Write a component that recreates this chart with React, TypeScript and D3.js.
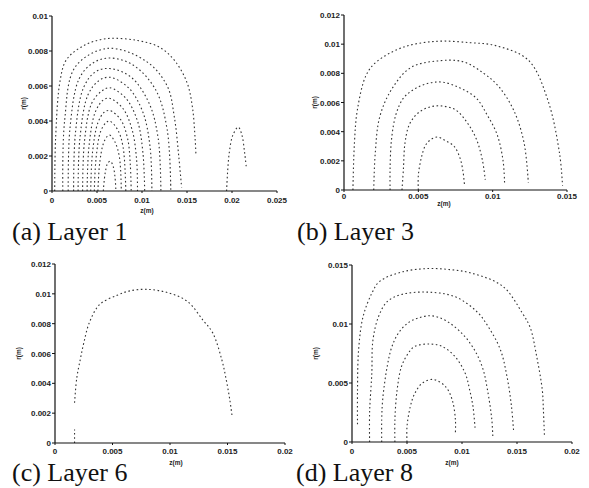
import React from "react";
import * as d3 from "d3";

type Pt = [number, number];

// ---------- DATA (z, r) in metres ----------
const layer1Contours: Pt[][] = [
  [[0.0003, 0], [0.0004, 0.003], [0.0009, 0.0063], [0.0016, 0.0075], [0.0035, 0.0083], [0.006, 0.0087], [0.0095, 0.0086], [0.012, 0.0082], [0.0137, 0.0074], [0.015, 0.0062], [0.0156, 0.0048], [0.0159, 0.003], [0.016, 0.002]],
  [[0.0012, 0], [0.0014, 0.004], [0.0026, 0.0071], [0.0062, 0.00815], [0.0105, 0.0074], [0.0128, 0.006], [0.0136, 0.0042], [0.0141, 0.0019], [0.0144, 0.0002]],
  [[0.0018, 0], [0.002, 0.0036], [0.003, 0.0064], [0.0045, 0.0073], [0.0064, 0.0076], [0.009, 0.0072], [0.0115, 0.0058], [0.0128, 0.0035], [0.0132, 0]],
  [[0.0024, 0], [0.0026, 0.0033], [0.0035, 0.0059], [0.0048, 0.0068], [0.0064, 0.007], [0.0088, 0.0065], [0.0108, 0.005], [0.0118, 0.003], [0.0121, 0]],
  [[0.0029, 0], [0.0031, 0.003], [0.004, 0.0055], [0.0052, 0.0063], [0.0064, 0.0065], [0.0085, 0.0059], [0.0101, 0.0045], [0.0109, 0.0025], [0.0111, 0]],
  [[0.0034, 0], [0.0036, 0.0028], [0.0044, 0.005], [0.0055, 0.0057], [0.0064, 0.0059], [0.0082, 0.0053], [0.0095, 0.004], [0.0101, 0.0022], [0.0103, 0]],
  [[0.0039, 0], [0.0041, 0.0025], [0.0048, 0.0045], [0.0057, 0.0052], [0.0064, 0.0053], [0.0079, 0.0047], [0.0089, 0.0035], [0.0094, 0.0018], [0.0095, 0]],
  [[0.0043, 0], [0.0045, 0.0022], [0.0051, 0.0039], [0.0058, 0.0045], [0.0064, 0.0046], [0.0076, 0.0041], [0.0084, 0.003], [0.0087, 0.0015], [0.0088, 0]],
  [[0.0047, 0], [0.0049, 0.0019], [0.0054, 0.0034], [0.006, 0.0039], [0.0064, 0.004], [0.0073, 0.0035], [0.0079, 0.0025], [0.0082, 0]],
  [[0.0051, 0], [0.0053, 0.0016], [0.0057, 0.0027], [0.0061, 0.0031], [0.0064, 0.0032], [0.007, 0.0028], [0.0075, 0.0019], [0.0077, 0]],
  [[0.0057, 0], [0.0059, 0.001], [0.0062, 0.0016], [0.0065, 0.0017], [0.0068, 0.0014], [0.007, 0.0008], [0.0071, 0]],
  [[0.0194, 0], [0.0195, 0.001], [0.0197, 0.0022], [0.0201, 0.0032], [0.0207, 0.00365], [0.0211, 0.0032], [0.0214, 0.0022], [0.0216, 0.0013]],
];

const layer3Contours: Pt[][] = [
  [[0.0006, 0], [0.0007, 0.0032], [0.0009, 0.0055], [0.0015, 0.0079], [0.0022, 0.0088], [0.004, 0.0098], [0.0063, 0.0102], [0.0085, 0.0101], [0.0102, 0.0099], [0.0124, 0.0089], [0.0137, 0.0062], [0.0145, 0.0025], [0.0147, 0.0003]],
  [[0.002, 0], [0.0021, 0.0025], [0.0024, 0.005], [0.0032, 0.0069], [0.0045, 0.0084], [0.0063, 0.00885], [0.008, 0.0088], [0.0094, 0.008], [0.0104, 0.0071], [0.0114, 0.0055], [0.0121, 0.0033], [0.0124, 0.0005]],
  [[0.0031, 0], [0.0031, 0.0015], [0.0032, 0.0035], [0.0035, 0.0052], [0.004, 0.0063], [0.0047, 0.0069], [0.0056, 0.0073], [0.0066, 0.0074], [0.0078, 0.007], [0.0089, 0.0063], [0.0096, 0.0052], [0.0103, 0.0038], [0.0107, 0.002], [0.0108, 0.0005]],
  [[0.0039, 0], [0.004, 0.0015], [0.0041, 0.0032], [0.0044, 0.0045], [0.005, 0.0053], [0.0058, 0.0057], [0.0066, 0.00576], [0.0075, 0.0055], [0.0083, 0.0046], [0.0089, 0.0035], [0.0093, 0.0021], [0.0095, 0.0007]],
  [[0.005, 0], [0.005, 0.001], [0.0052, 0.0022], [0.0055, 0.0031], [0.0059, 0.0035], [0.0063, 0.00363], [0.0068, 0.0034], [0.0074, 0.003], [0.0078, 0.0022], [0.008, 0.0013], [0.0081, 0.0004]],
];

const layer6Contours: Pt[][] = [
  [[0.0017, 0], [0.0017, 0.0009]],
  [[0.0017, 0.0027], [0.0019, 0.0044], [0.0022, 0.0056], [0.0025, 0.0067], [0.003, 0.0081], [0.0039, 0.0093], [0.0054, 0.0099], [0.0065, 0.0102], [0.008, 0.0103], [0.0097, 0.0101], [0.0115, 0.0095], [0.0129, 0.0082], [0.0137, 0.0074], [0.0145, 0.0056], [0.0149, 0.0042], [0.0152, 0.0029], [0.0154, 0.0018]],
];

const layer8Contours: Pt[][] = [
  [[0.0005, 0.0015], [0.0005, 0.0044], [0.0006, 0.0078], [0.001, 0.0106], [0.0018, 0.0126], [0.0025, 0.0136], [0.0045, 0.0144], [0.0069, 0.0147], [0.009, 0.0146], [0.0109, 0.0143], [0.0137, 0.0132], [0.0155, 0.0109], [0.0162, 0.0097], [0.0168, 0.0072], [0.0173, 0.0044], [0.0174, 0.0027], [0.0175, 0.0004]],
  [[0.0016, 0], [0.0016, 0.0025], [0.0018, 0.0058], [0.0019, 0.0086], [0.0024, 0.0106], [0.0032, 0.0119], [0.0045, 0.0125], [0.0069, 0.0127], [0.0094, 0.0123], [0.0114, 0.011], [0.0125, 0.0096], [0.0135, 0.0078], [0.0141, 0.0055], [0.0145, 0.003], [0.0147, 0.0008]],
  [[0.0027, 0], [0.0027, 0.0019], [0.0028, 0.0037], [0.0032, 0.0064], [0.0036, 0.008], [0.0042, 0.0092], [0.0051, 0.0101], [0.006, 0.0105], [0.0072, 0.0107], [0.0085, 0.0103], [0.0101, 0.0091], [0.0112, 0.0077], [0.0119, 0.0062], [0.0123, 0.0045], [0.0127, 0.002], [0.0128, 0.0005]],
  [[0.0039, 0], [0.0039, 0.0019], [0.0041, 0.0044], [0.0045, 0.0064], [0.0051, 0.0075], [0.0057, 0.0081], [0.0071, 0.0083], [0.0082, 0.0081], [0.0094, 0.0072], [0.0103, 0.0058], [0.0107, 0.0044], [0.011, 0.003], [0.0112, 0.001]],
  [[0.005, 0], [0.005, 0.0013], [0.0053, 0.003], [0.0057, 0.0041], [0.0064, 0.005], [0.0074, 0.0053], [0.0085, 0.0047], [0.0091, 0.0036], [0.0094, 0.0019], [0.0094, 0.0008]],
];

const xTicksA = [0, 0.005, 0.01, 0.015, 0.02, 0.025];
const yTicksA = [0, 0.002, 0.004, 0.006, 0.008, 0.01];
const xTicksB = [0, 0.005, 0.01, 0.015];
const yTicksB = [0, 0.002, 0.004, 0.006, 0.008, 0.01, 0.012];
const xTicksC = [0, 0.005, 0.01, 0.015, 0.02];
const yTicksC = [0, 0.002, 0.004, 0.006, 0.008, 0.01, 0.012];
const xTicksD = [0, 0.005, 0.01, 0.015, 0.02];
const yTicksD = [0, 0.005, 0.01, 0.015];

const captions = ["(a) Layer 1", "(b) Layer 3", "(c) Layer 6", "(d) Layer 8"];
const xAxisTitle = "z(m)";
const yAxisTitle = "r(m)";

// ---------- LAYOUT ----------
interface PanelCfg {
  contours: Pt[][];
  xTicks: number[];
  yTicks: number[];
  left: number; right: number; top: number; bottom: number;
  rLabelX: number; capX: number; capY: number;
  zLabelX: number; zLabelY: number; tickY: number;
  caption: string;
}

const panels: PanelCfg[] = [
  { contours: layer1Contours, xTicks: xTicksA, yTicks: yTicksA, left: 52, right: 277, top: 16, bottom: 191, rLabelX: 26, capX: 12, capY: 240, zLabelX: 147, zLabelY: 213, tickY: 203, caption: captions[0] },
  { contours: layer3Contours, xTicks: xTicksB, yTicks: yTicksB, left: 344, right: 567, top: 15, bottom: 190, rLabelX: 317, capX: 297, capY: 240, zLabelX: 444, zLabelY: 206, tickY: 199, caption: captions[1] },
  { contours: layer6Contours, xTicks: xTicksC, yTicks: yTicksC, left: 55, right: 285, top: 264, bottom: 443, rLabelX: 21, capX: 12, capY: 481, zLabelX: 176, zLabelY: 465, tickY: 454, caption: captions[2] },
  { contours: layer8Contours, xTicks: xTicksD, yTicks: yTicksD, left: 352, right: 572, top: 265, bottom: 442, rLabelX: 318, capX: 296, capY: 481, zLabelX: 452, zLabelY: 465, tickY: 454, caption: captions[3] },
];

const fmt = (v: number) => String(+v.toFixed(4));

function Panel({ p }: { p: PanelCfg }) {
  const xMax = p.xTicks[p.xTicks.length - 1];
  const yMax = p.yTicks[p.yTicks.length - 1];
  const x = d3.scaleLinear().domain([0, xMax]).range([p.left, p.right]);
  const y = d3.scaleLinear().domain([0, yMax]).range([p.bottom, p.top]);
  const line = d3
    .line<Pt>()
    .x((d) => x(d[0]))
    .y((d) => y(d[1]))
    .curve(d3.curveCatmullRom.alpha(0.5));
  const tickFont = "'Liberation Sans', Arial, sans-serif";
  return (
    <g>
      {p.contours.map((c, i) => (
        <path
          key={i}
          d={line(c) || ""}
          fill="none"
          stroke="#333"
          strokeWidth={1.1}
          strokeDasharray="1.6 2.6"
        />
      ))}
      <line x1={p.left} x2={p.left} y1={p.top} y2={p.bottom} stroke="#111" strokeWidth={1.2} />
      <line x1={p.left} x2={p.right} y1={p.bottom} y2={p.bottom} stroke="#111" strokeWidth={1.2} />
      {p.yTicks.map((t) => (
        <g key={"y" + t}>
          <line x1={p.left - 3} x2={p.left} y1={y(t)} y2={y(t)} stroke="#111" strokeWidth={1} />
          <text x={p.left - 4} y={y(t) + 3} textAnchor="end" fontSize={8} fontWeight="bold" fill="#222" fontFamily={tickFont}>
            {fmt(t)}
          </text>
        </g>
      ))}
      {p.xTicks.map((t) => (
        <g key={"x" + t}>
          <line x1={x(t)} x2={x(t)} y1={p.bottom} y2={p.bottom + 2} stroke="#111" strokeWidth={1} />
          <text x={x(t)} y={p.tickY} textAnchor="middle" fontSize={8} fontWeight="bold" fill="#222" fontFamily={tickFont}>
            {fmt(t)}
          </text>
        </g>
      ))}
      <text x={p.zLabelX} y={p.zLabelY} textAnchor="middle" fontSize={6.5} fontWeight="bold" fill="#222" fontFamily={tickFont}>
        {xAxisTitle}
      </text>
      <text
        transform={`translate(${p.rLabelX},${(p.top + p.bottom) / 2}) rotate(-90)`}
        textAnchor="middle"
        fontSize={6.5}
        fontWeight="bold"
        fill="#222"
        fontFamily={tickFont}
      >
        {yAxisTitle}
      </text>
      <text x={p.capX} y={p.capY} fontSize={26} fill="#111" fontFamily="'Liberation Serif', 'Times New Roman', serif">
        {p.caption}
      </text>
    </g>
  );
}

export default function App() {
  return (
    <svg width={589} height={488} style={{ position: "absolute", left: 0, top: 0, background: "#fff" }}>
      <rect x={0} y={0} width={589} height={488} fill="#fff" />
      {panels.map((p, i) => (
        <Panel key={i} p={p} />
      ))}
    </svg>
  );
}
